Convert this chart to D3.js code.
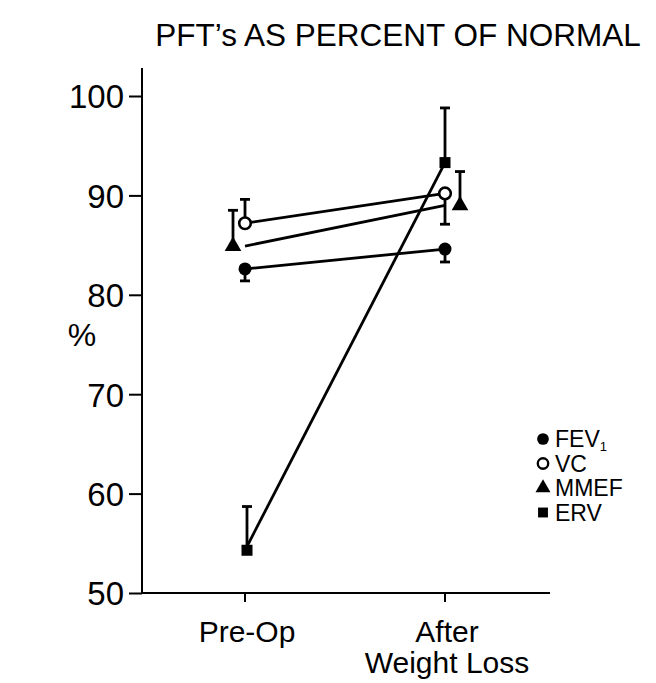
<!DOCTYPE html>
<html>
<head>
<meta charset="utf-8">
<script src="https://cdn.jsdelivr.net/npm/d3@7"></script>
<style>
  body { margin: 0; background: #fff; }
  text { font-family: "Liberation Sans", Arial, sans-serif; fill: #000; }
</style>
</head>
<body>
<div id="chart"></div>
<script>
// values (percent of normal)
var categories = ["Pre-Op", "After Weight Loss"];
var seriesNames = ["FEV1", "VC", "MMEF", "ERV"];
var fev1Values = [82.6, 84.6];
var fev1ErrEnds = [81.4, 83.3];
var vcValues = [87.2, 90.2];
var vcErrEnds = [89.6, 87.1];
var mmefValues = [84.9, 89.0];
var mmefErrEnds = [88.5, 92.4];
var ervValues = [54.3, 93.3];
var ervErrEnds = [58.7, 98.8];
var yTicks = [50, 60, 70, 80, 90, 100];

var width = 656, height = 683;

var svg = d3.select("#chart")
  .append("svg")
  .attr("width", width)
  .attr("height", height);

var x = d3.scalePoint().domain(categories).range([245, 445]);
var y = d3.scaleLinear().domain([50, 100]).range([593, 96]);

var axisX = 142;

// title
svg.append("text")
  .attr("x", 398)
  .attr("y", 46)
  .attr("text-anchor", "middle")
  .style("font-size", "31.5px")
  .text("PFT\u2019s AS PERCENT OF NORMAL");

// y axis
svg.append("line")
  .attr("x1", axisX).attr("x2", axisX)
  .attr("y1", 68).attr("y2", y(50))
  .attr("stroke", "#000").attr("stroke-width", 2);

var yAxis = svg.append("g")
  .attr("transform", "translate(" + axisX + ",0)")
  .call(d3.axisLeft(y).tickValues(yTicks).tickSize(13).tickPadding(5));
yAxis.select(".domain").remove();
yAxis.selectAll(".tick line").attr("stroke", "#000").attr("stroke-width", 2);
yAxis.selectAll(".tick text")
  .style("font-size", "33px")
  .style("font-family", "Liberation Sans, Arial, sans-serif")
  .attr("dy", "0.36em");

svg.append("text")
  .attr("x", 82)
  .attr("y", 346)
  .attr("text-anchor", "middle")
  .style("font-size", "32px")
  .text("%");

// x axis
svg.append("line")
  .attr("x1", axisX).attr("x2", 550)
  .attr("y1", y(50)).attr("y2", y(50))
  .attr("stroke", "#000").attr("stroke-width", 2);

svg.selectAll(".xtick")
  .data(categories)
  .enter()
  .append("line")
  .attr("class", "xtick")
  .attr("x1", function(d) { return x(d); })
  .attr("x2", function(d) { return x(d); })
  .attr("y1", y(50))
  .attr("y2", y(50) + 9)
  .attr("stroke", "#000").attr("stroke-width", 2);

// category labels, the second one wrapped on two lines
categories.forEach(function(d) {
  var words = d === "After Weight Loss" ? ["After", "Weight Loss"] : [d];
  words.forEach(function(w, i) {
    svg.append("text")
      .attr("class", "xlabel")
      .attr("x", x(d) + 2)
      .attr("y", 642 + i * 31)
      .attr("text-anchor", "middle")
      .style("font-size", "30px")
      .text(w);
  });
});

// series
var series = [
  { name: "FEV1", values: fev1Values, errs: fev1ErrEnds, dx: [0, 0] },
  { name: "VC", values: vcValues, errs: vcErrEnds, dx: [0, 0] },
  { name: "MMEF", values: mmefValues, errs: mmefErrEnds, dx: [-12, 15] },
  { name: "ERV", values: ervValues, errs: ervErrEnds, dx: [2, 0] }
];

var line = d3.line()
  .x(function(d, i) { return x(categories[i]); })
  .y(function(d) { return y(d); });

series.forEach(function(s) {
  svg.append("path")
    .attr("d", line(s.values))
    .attr("fill", "none")
    .attr("stroke", "#000")
    .attr("stroke-width", 2.8);
});

// error bars
series.forEach(function(s) {
  s.values.forEach(function(v, i) {
    var cx = x(categories[i]) + s.dx[i];
    var g = svg.append("g");
    g.append("line")
      .attr("x1", cx).attr("x2", cx)
      .attr("y1", y(v)).attr("y2", y(s.errs[i]))
      .attr("stroke", "#000").attr("stroke-width", 2.8);
    g.append("line")
      .attr("x1", cx - 5).attr("x2", cx + 5)
      .attr("y1", y(s.errs[i])).attr("y2", y(s.errs[i]))
      .attr("stroke", "#000").attr("stroke-width", 2.8);
  });
});

// markers
function drawMarker(g, name, cx, cy, scale) {
  if (name === "FEV1") {
    g.append("circle").attr("cx", cx).attr("cy", cy).attr("r", 6.5 * scale).attr("fill", "#000");
  } else if (name === "VC") {
    g.append("circle").attr("cx", cx).attr("cy", cy).attr("r", 5.8 * scale)
      .attr("fill", "#fff").attr("stroke", "#000").attr("stroke-width", 2.6 * scale);
  } else if (name === "MMEF") {
    g.append("path")
      .attr("d", d3.symbol().type(d3.symbolTriangle).size(120 * scale * scale)())
      .attr("transform", "translate(" + cx + "," + cy + ")")
      .attr("fill", "#000");
  } else {
    var s = 11 * scale;
    g.append("rect").attr("x", cx - s / 2).attr("y", cy - s / 2)
      .attr("width", s).attr("height", s).attr("fill", "#000");
  }
}

series.forEach(function(s) {
  s.values.forEach(function(v, i) {
    drawMarker(svg, s.name, x(categories[i]) + s.dx[i], y(v), 1);
  });
});

// legend
var legend = svg.append("g");
seriesNames.forEach(function(name, i) {
  var ly = 439 + i * 24.5;
  drawMarker(legend, name, 543, ly, 0.9);
  var t = legend.append("text")
    .attr("x", 555)
    .attr("y", ly + 8)
    .style("font-size", "23px");
  if (name === "FEV1") {
    t.append("tspan").text("FEV");
    t.append("tspan").attr("dy", 4).style("font-size", "13px").text("1");
  } else {
    t.text(name);
  }
});
</script>
</body>
</html>
